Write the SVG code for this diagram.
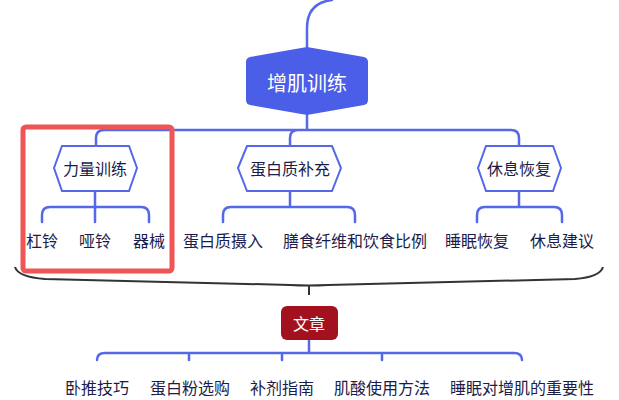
<svg xmlns="http://www.w3.org/2000/svg" width="619" height="400" viewBox="0 0 619 400">
<style>
.c{fill:none;stroke:#5468e8;stroke-width:2.5;stroke-linecap:round}
.h{fill:#fff;stroke:#5468e8;stroke-width:2}
text{font-family:"Noto Sans CJK SC",sans-serif;text-anchor:middle;dominant-baseline:central}
.t2{font-size:16px;fill:#1c1c4a}
.t3{font-size:16px;fill:#1c1c4a}
</style>
<rect width="619" height="400" fill="#fff"/>
<g id="connectors">
<path class="c" d="M332,0 C315,2 307,12 307,28 V47"/>
<path class="c" d="M307,115 V130 M104,130 H511 M96,146 V138 Q96,130 104,130 M290,146 V138 Q290,130 298,130 M519,146 V138 Q519,130 511,130"/>
<path class="c" d="M95,191 V222 M42,222 V215 Q42,207 50,207 H141 Q149,207 149,215 V222"/>
<path class="c" d="M290,191 V207 M223,222 V215 Q223,207 231,207 H347 Q355,207 355,215 V222"/>
<path class="c" d="M519,191 V207 M477,222 V215 Q477,207 485,207 H554 Q562,207 562,215 V222"/>
<path class="c" d="M309,340 V353 M97,360 Q97,353 105,353 H514 Q522,353 522,360 M189,353 V360 M282,353 V360 M382,353 V360"/>
<path d="M15,267 Q18,277 45,279 L290,285 Q309,286 328,285 L575,279 Q600,277 603,267 M309,285 V295" fill="none" stroke="#333" stroke-width="2"/>
</g>
<g id="root">
<path d="M250,57 L307,47 L364,57 Q368,58 368,62 V100 Q368,104 364,105 L307,115 L250,105 Q246,104 246,100 V62 Q246,58 250,57 Z" fill="#4a5ee8"/>
<text x="307" y="82" font-size="20" fill="#fff">增肌训练</text>
</g>
<g id="n1"><polygon class="h" points="54,168 62,146 129,146 137,168 129,191 62,191"/><text class="t2" x="95" y="168">力量训练</text></g>
<g id="n2"><polygon class="h" points="238,168 247,146 332,146 341,168 332,191 247,191"/><text class="t2" x="290" y="168">蛋白质补充</text></g>
<g id="n3"><polygon class="h" points="478,168 486,146 553,146 561,168 553,191 486,191"/><text class="t2" x="519" y="168">休息恢复</text></g>
<g id="l1"><text class="t3" x="42" y="240">杠铃</text></g>
<g id="l2"><text class="t3" x="95" y="240">哑铃</text></g>
<g id="l3"><text class="t3" x="149" y="240">器械</text></g>
<g id="l4"><text class="t3" x="223" y="240">蛋白质摄入</text></g>
<g id="l5"><text class="t3" x="355" y="240">膳食纤维和饮食比例</text></g>
<g id="l6"><text class="t3" x="477" y="240">睡眠恢复</text></g>
<g id="l7"><text class="t3" x="562" y="240">休息建议</text></g>
<g id="article"><rect x="281" y="306" width="57" height="34" rx="6" fill="#a3111e"/><text x="309" y="323" font-size="16" fill="#fff">文章</text></g>
<g id="a1"><text class="t3" x="97" y="387">卧推技巧</text></g>
<g id="a2"><text class="t3" x="190" y="387">蛋白粉选购</text></g>
<g id="a3"><text class="t3" x="282" y="387">补剂指南</text></g>
<g id="a4"><text class="t3" x="382" y="387">肌酸使用方法</text></g>
<g id="a5"><text class="t3" x="522" y="387">睡眠对增肌的重要性</text></g>
<rect x="23" y="127" width="149" height="144" rx="3" fill="none" stroke="#f05555" stroke-width="5"/>
</svg>
